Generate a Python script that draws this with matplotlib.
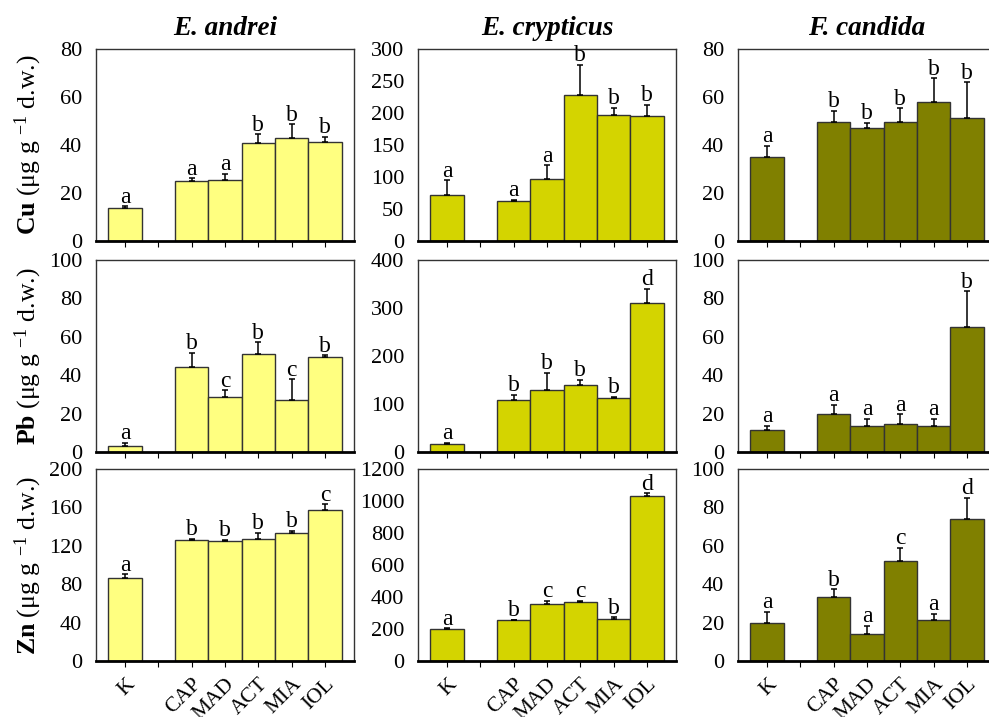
import matplotlib
matplotlib.use("Agg")
import matplotlib.pyplot as plt

plt.rcParams['font.family'] = ['Liberation Serif', 'DejaVu Serif']
plt.rcParams['mathtext.fontset'] = 'custom'
plt.rcParams['mathtext.rm'] = 'Liberation Serif'
plt.rcParams['mathtext.bf'] = 'Liberation Serif:bold'
plt.rcParams['mathtext.it'] = 'Liberation Serif:italic'

treatments = ['K', '', 'CAP', 'MAD', 'ACT', 'MIA', 'IOL']
bar_pos = [0, 2, 3, 4, 5, 6]
species = ['E. andrei', 'E. crypticus', 'F. candida']
metals = ['Cu', 'Pb', 'Zn']
colors = ['#ffff80', '#d4d400', '#808000']

# means (K, CAP, MAD, ACT, MIA, IOL)
cu_andrei = [13.6, 25.1, 25.4, 41.0, 42.8, 41.1]
cu_andrei_err = [0.8, 1.0, 2.5, 3.4, 5.8, 2.2]
cu_andrei_let = ['a', 'a', 'a', 'b', 'b', 'b']
cu_crypt = [72, 62.4, 97.5, 227.5, 196.5, 195]
cu_crypt_err = [23, 2.1, 20.5, 47.5, 11.5, 18]
cu_crypt_let = ['a', 'a', 'a', 'b', 'b', 'b']
cu_cand = [35.1, 49.7, 46.9, 49.4, 58.0, 51.1]
cu_cand_err = [4.5, 4.5, 2.3, 5.9, 9.8, 15.1]
cu_cand_let = ['a', 'b', 'b', 'b', 'b', 'b']

pb_andrei = [3.0, 44.4, 28.5, 50.9, 27.3, 49.5]
pb_andrei_err = [1.9, 7.3, 3.6, 6.2, 10.5, 0.8]
pb_andrei_let = ['a', 'b', 'c', 'b', 'c', 'b']
pb_crypt = [17.4, 109, 129.9, 140.3, 113.2, 309.7]
pb_crypt_err = [2.0, 10.4, 35.1, 9.7, 1.4, 29.9]
pb_crypt_let = ['a', 'b', 'b', 'b', 'b', 'd']
pb_cand = [11.4, 20.0, 13.3, 14.7, 13.8, 65.2]
pb_cand_err = [2.2, 4.5, 3.9, 5.0, 3.4, 18.4]
pb_cand_let = ['a', 'a', 'a', 'a', 'a', 'b']

zn_andrei = [86.4, 126.0, 124.7, 127.1, 133.0, 156.8]
zn_andrei_err = [4.1, 1.5, 1.7, 6.2, 2.4, 6.6]
zn_andrei_let = ['a', 'b', 'b', 'b', 'b', 'c']
zn_crypt = [197, 257, 356.5, 369, 265, 1034]
zn_crypt_err = [8, 2, 18.5, 6, 8.6, 15]
zn_crypt_let = ['a', 'b', 'c', 'c', 'b', 'd']
zn_cand = [19.7, 33.2, 14.0, 52.2, 21.3, 74.2]
zn_cand_err = [5.9, 4.2, 4.2, 6.6, 3.3, 10.9]
zn_cand_let = ['a', 'b', 'a', 'c', 'a', 'd']

data = [
    [(cu_andrei, cu_andrei_err, cu_andrei_let), (cu_crypt, cu_crypt_err, cu_crypt_let), (cu_cand, cu_cand_err, cu_cand_let)],
    [(pb_andrei, pb_andrei_err, pb_andrei_let), (pb_crypt, pb_crypt_err, pb_crypt_let), (pb_cand, pb_cand_err, pb_cand_let)],
    [(zn_andrei, zn_andrei_err, zn_andrei_let), (zn_crypt, zn_crypt_err, zn_crypt_let), (zn_cand, zn_cand_err, zn_cand_let)],
]
ylims = [[80, 300, 80], [100, 400, 100], [200, 1200, 100]]
ysteps = [[20, 50, 20], [20, 100, 20], [40, 200, 20]]

W, H = 989, 717
fig = plt.figure(figsize=(W / 100, H / 100), dpi=100)

col_left = [96, 418, 738]
row_top = [49, 260, 469]
aw, ah = 258, 192

for r in range(3):
    for c in range(3):
        ax = fig.add_axes([col_left[c] / W, 1 - (row_top[r] + ah) / H, aw / W, ah / H])
        vals, errs, lets = data[r][c]
        ax.bar(bar_pos, vals, width=1.0, color=colors[c], edgecolor='#333333', linewidth=1.0, zorder=2)
        ax.errorbar(bar_pos, vals, yerr=[[0] * 6, errs], fmt='none', ecolor='black',
                    elinewidth=1.1, capsize=2.5, capthick=1.1, zorder=3)
        ymax = ylims[r][c]
        for x, v, e, l in zip(bar_pos, vals, errs, lets):
            ax.annotate(l, (x, v + e), xytext=(0, -1), textcoords='offset points',
                        ha='center', va='bottom', fontsize=17)
        ax.set_xlim(-0.87, 6.87)
        ax.set_ylim(0, ymax)
        ax.set_yticks(range(0, ymax + 1, ysteps[r][c]))
        ax.set_xticks(range(7))
        if r == 2:
            ax.set_xticklabels(treatments, rotation=45, ha='right', rotation_mode='anchor', fontsize=15.5)
        else:
            ax.set_xticklabels([])
        ax.tick_params(axis='y', length=0, pad=10, labelsize=16)
        ax.tick_params(axis='x', length=4, width=0.8, direction='out', pad=6)
        for s in ['top', 'left', 'right']:
            ax.spines[s].set_color('#333333')
            ax.spines[s].set_linewidth(1.0)
        ax.spines['bottom'].set_linewidth(2.0)
        ax.spines['bottom'].set_color('black')
        if r == 0:
            ax.set_title(species[c], fontsize=19.5, fontweight='bold', fontstyle='italic', pad=10)
        if c == 0:
            fig.text(28 / W, 1 - (row_top[r] + ah / 2) / H,
                     r'$\mathbf{%s}$ ($\mathrm{\mu}$g g $^{-1}$ d.w.)' % metals[r],
                     rotation=90, ha='center', va='center', fontsize=18.5)

fig.savefig('out.png', dpi=100)
